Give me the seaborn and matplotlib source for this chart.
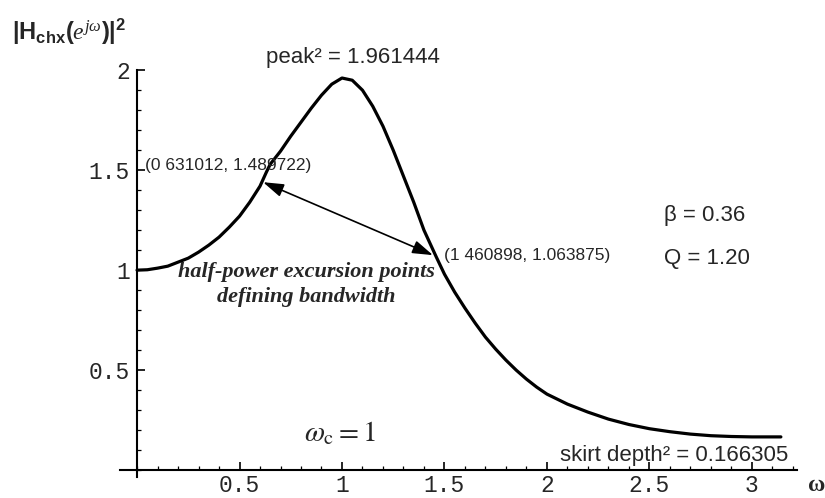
import numpy as np
import seaborn as sns
import matplotlib
matplotlib.use('Agg')
import matplotlib.pyplot as plt
from matplotlib.ticker import FixedLocator, MultipleLocator, FixedFormatter

# values
omega = [0.0, 0.05, 0.1, 0.15, 0.2, 0.25, 0.3, 0.35, 0.4, 0.45, 0.5, 0.55, 0.6,
         0.631, 0.65, 0.7, 0.75, 0.8, 0.85, 0.9, 0.95, 1.0, 1.05, 1.1, 1.15,
         1.2, 1.25, 1.3, 1.35, 1.4, 1.461, 1.5, 1.55, 1.6, 1.65, 1.7, 1.75,
         1.8, 1.85, 1.9, 1.95, 2.0, 2.1, 2.2, 2.3, 2.4, 2.5, 2.6, 2.7, 2.8,
         2.9, 3.0, 3.1416]
h_sq = [1.0, 1.002, 1.01, 1.02, 1.04, 1.06, 1.09, 1.125, 1.165, 1.215, 1.27, 1.34, 1.42,
        1.49, 1.53, 1.595, 1.67, 1.74, 1.81, 1.875, 1.93, 1.961, 1.95, 1.90, 1.82,
        1.72, 1.60, 1.47, 1.34, 1.20, 1.064, 0.98, 0.89, 0.81, 0.735, 0.665, 0.605,
        0.55, 0.50, 0.455, 0.415, 0.38, 0.33, 0.29, 0.255, 0.228, 0.207, 0.192, 0.18, 0.172,
        0.168, 0.166, 0.166]

x_ticks = [0.5, 1, 1.5, 2, 2.5, 3]
x_tick_labels = ['0.5', '1', '1.5', '2', '2.5', '3']
y_ticks = [0.5, 1, 1.5, 2]
y_tick_labels = ['0.5', '1', '1.5', '2']

half_power_lo = (0.631012, 1.489722)
half_power_hi = (1.460898, 1.063875)

sns.set_style('white')
plt.rcParams['font.family'] = ['Liberation Sans', 'DejaVu Sans']
plt.rcParams['mathtext.fontset'] = 'custom'
plt.rcParams['mathtext.rm'] = 'Liberation Sans'
plt.rcParams['mathtext.it'] = 'Liberation Serif:italic'
plt.rcParams['mathtext.bf'] = 'Liberation Sans:bold'

fig = plt.figure(figsize=(8.25, 4.98), dpi=100)
ax = fig.add_axes([0.145, 0.042, 0.821, 0.817])

sns.lineplot(x=omega, y=h_sq, color='black', linewidth=2.3, ax=ax)

ax.set_xlim(-0.085, 3.22)
ax.set_ylim(-0.035, 2.0)

# mathematica style axes through the origin
for side in ['top', 'right']:
    ax.spines[side].set_visible(False)
ax.spines['left'].set_position(('data', 0))
ax.spines['bottom'].set_position(('data', 0))
for side in ['left', 'bottom']:
    ax.spines[side].set_linewidth(1.5)
    ax.spines[side].set_color('black')

ax.xaxis.set_major_locator(FixedLocator(x_ticks))
ax.xaxis.set_major_formatter(FixedFormatter(x_tick_labels))
ax.yaxis.set_major_locator(FixedLocator(y_ticks))
ax.yaxis.set_major_formatter(FixedFormatter(y_tick_labels))
ax.xaxis.set_minor_locator(MultipleLocator(0.1))
ax.yaxis.set_minor_locator(MultipleLocator(0.1))
ax.tick_params(which='both', bottom=True, left=True, direction='in', color='black')
ax.tick_params(which='major', length=5.5, width=1.2)
ax.tick_params(which='minor', length=2.8, width=0.9)
ax.tick_params(axis='x', which='major', pad=3)
ax.tick_params(axis='y', which='major', pad=5)
for lab in ax.get_xticklabels() + ax.get_yticklabels():
    lab.set_family('Liberation Mono')
    lab.set_fontsize(16.5)

# labels
fig.text(0.014, 0.935, r'$\mathbf{|H_{chx}(}e^{j\omega}\mathbf{)|^{2}}$',
         fontsize=17, ha='left', va='center')
fig.text(0.990, 0.026, 'ω', family='Liberation Serif', fontweight='bold',
         fontsize=17, ha='center', va='center')

ax.text(1.054, 2.065, 'peak² = 1.961444', fontsize=16, ha='center', va='center',
        clip_on=False)
ax.text(0.04, half_power_lo[1] + 0.035, '(0 631012, 1.489722)', fontsize=12.5,
        ha='left', va='center')
ax.text(1.50, half_power_hi[1] + 0.01, '(1 460898, 1.063875)', fontsize=12.5,
        ha='left', va='center')
ax.annotate('', xy=(0.615, 1.44), xytext=(1.444, 1.075),
            arrowprops=dict(arrowstyle='<|-|>,head_length=1.25,head_width=0.4',
                            color='black', lw=1.2, shrinkA=0, shrinkB=0))
ax.text(0.825, 0.99, 'half-power excursion points',
        family='Liberation Serif', style='italic', fontweight='bold',
        fontsize=16, ha='center', va='center')
ax.text(0.825, 0.865, 'defining bandwidth',
        family='Liberation Serif', style='italic', fontweight='bold',
        fontsize=16, ha='center', va='center')
ax.text(2.57, 1.275, 'β = 0.36', fontsize=16, ha='left', va='center')
ax.text(2.57, 1.06, 'Q = 1.20', fontsize=16, ha='left', va='center')
ax.text(0.99, 0.185, r'$\omega_{\mathrm{c}} = 1$', math_fontfamily='stix',
        fontsize=21, ha='center', va='center')
ax.text(3.176, 0.075, 'skirt depth² = 0.166305', fontsize=16, ha='right',
        va='center')

fig.savefig('out.png', dpi=100)
